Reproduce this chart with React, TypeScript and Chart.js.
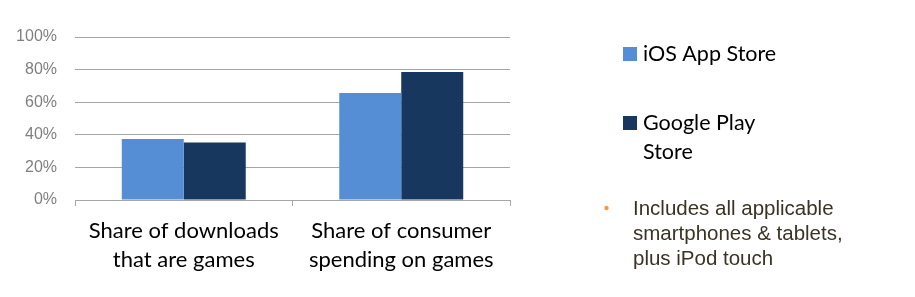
import React, { useEffect, useRef } from 'react';
import { Chart, registerables } from 'chart.js';

Chart.register(...registerables);

const categories: string[][] = [
  ['Share of downloads', 'that are games'],
  ['Share of consumer', 'spending on games'],
];
const seriesNames = ['iOS App Store', 'Google Play Store'];
const iosValues = [37.4, 65.6];
const googleValues = [35.2, 78.5];
const seriesColors = ['#558ED5', '#17375E'];
const yTickStep = 20;
const yMax = 100;
const noteLines = ['Includes all applicable', 'smartphones & tablets,', 'plus iPod touch'];

const LABEL_FONT = 'Lato, "Open Sans", sans-serif';
const NOTE_FONT = '"Liberation Sans", Arial, sans-serif';

function wrapText(ctx: CanvasRenderingContext2D, text: string, maxWidth: number): string[] {
  const words = text.split(' ');
  const lines: string[] = [];
  let cur = '';
  for (const w of words) {
    const test = cur ? cur + ' ' + w : w;
    if (ctx.measureText(test).width > maxWidth && cur) {
      lines.push(cur);
      cur = w;
    } else {
      cur = test;
    }
  }
  if (cur) lines.push(cur);
  return lines;
}

const sidePlugin = {
  id: 'sideLegendNote',
  afterDraw(chart: any) {
    const ctx: CanvasRenderingContext2D = chart.ctx;
    ctx.save();
    // Legend
    ctx.font = `21.5px ${LABEL_FONT}`;
    ctx.textBaseline = 'middle';
    ctx.textAlign = 'left';
    const boxX = 623;
    const textX = 643;
    const itemTops = [54, 123];
    const lineH = 29;
    chart.data.datasets.forEach((ds: any, i: number) => {
      const cy = itemTops[i];
      ctx.fillStyle = ds.backgroundColor;
      ctx.fillRect(boxX, cy - 7, 14, 14);
      ctx.fillStyle = '#000000';
      const lines = wrapText(ctx, ds.label, 140);
      lines.forEach((ln, k) => ctx.fillText(ln, textX, cy + k * lineH));
    });
    // Note
    ctx.fillStyle = '#F79646';
    ctx.beginPath();
    ctx.arc(606.5, 208, 2.2, 0, Math.PI * 2);
    ctx.fill();
    ctx.font = `20.5px ${NOTE_FONT}`;
    ctx.fillStyle = '#3A3424';
    noteLines.forEach((ln, k) => ctx.fillText(ln, 633, 209 + k * 25));
    ctx.restore();
  },
};

export default function App() {
  const ref = useRef<HTMLCanvasElement | null>(null);
  useEffect(() => {
    if (!ref.current) return;
    const chart = new Chart(ref.current, {
      type: 'bar',
      data: {
        labels: categories,
        datasets: [
          {
            label: seriesNames[0],
            data: iosValues,
            backgroundColor: seriesColors[0],
            categoryPercentage: 0.57,
            barPercentage: 1.0,
            borderWidth: 0,
          },
          {
            label: seriesNames[1],
            data: googleValues,
            backgroundColor: seriesColors[1],
            categoryPercentage: 0.57,
            barPercentage: 1.0,
            borderWidth: 0,
          },
        ],
      },
      options: {
        responsive: false,
        animation: false,
        layout: { padding: { top: 37, right: 405, left: 0, bottom: 0 } },
        plugins: { legend: { display: false }, tooltip: { enabled: false } },
        scales: {
          x: {
            grid: {
              display: true,
              drawOnChartArea: false,
              offset: true,
              color: '#A6A6A6',
              tickLength: 6,
            },
            border: { display: true, color: '#A6A6A6' },
            ticks: {
              color: '#000000',
              font: { family: LABEL_FONT, size: 22, lineHeight: 1.3 },
              padding: 11,
              maxRotation: 0,
            },
            afterFit(s: any) {
              s.height = 97;
            },
          },
          y: {
            min: 0,
            max: yMax,
            ticks: {
              stepSize: yTickStep,
              callback: (v: any) => v + '%',
              color: '#7F7F7F',
              font: { family: NOTE_FONT, size: 16 },
              padding: 18,
            },
            grid: { color: '#A6A6A6', drawTicks: false },
            border: { display: false },
            afterFit(s: any) {
              s.width = 75;
            },
          },
        },
      },
      plugins: [sidePlugin],
    });
    return () => chart.destroy();
  }, []);
  return (
    <div style={{ position: 'absolute', left: 0, top: 0, width: 915, height: 297, background: '#fff' }}>
      <canvas ref={ref} width={915} height={297} />
    </div>
  );
}
